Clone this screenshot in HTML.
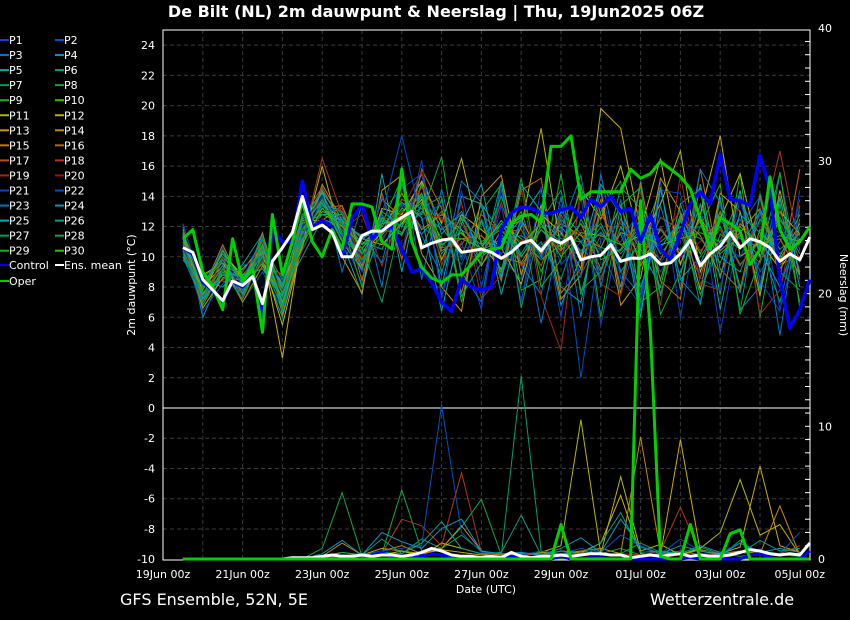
<!DOCTYPE html>
<html><head><meta charset="utf-8">
<style>
html,body{margin:0;padding:0;background:#000;width:850px;height:620px;overflow:hidden}
svg{display:block;font-family:"DejaVu Sans","Liberation Sans",sans-serif}
</style></head>
<body>
<svg id="chart" width="850" height="620" viewBox="0 0 850 620">
<rect x="0" y="0" width="850" height="620" fill="#000"/>
<text x="436" y="17" text-anchor="middle" font-size="16" font-weight="bold" fill="#fff">De Bilt  (NL)  2m dauwpunt &amp; Neerslag | Thu, 19Jun2025 06Z</text>
<g id="grid"></g>
<g id="axes"></g>
<g id="members"></g>
<g id="main"></g>
<g id="legend"></g>
<text x="145" y="295" transform="rotate(-90 135 295)" text-anchor="middle" font-size="11" fill="#fff">2m dauwpunt (°C)</text>
<text x="840" y="295" transform="rotate(90 840 295)" text-anchor="middle" font-size="11" fill="#fff">Neerslag (mm)</text>
<text x="486" y="593" text-anchor="middle" font-size="11" fill="#fff">Date (UTC)</text>
<text x="120" y="605" font-size="16" fill="#fff">GFS Ensemble, 52N, 5E</text>
<text x="650" y="605" font-size="16" fill="#fff">Wetterzentrale.de</text>
</svg>
<script>
// ---- data ----
const tempTicks = [-10,-8,-6,-4,-2,0,2,4,6,8,10,12,14,16,18,20,22,24];
const precipTicks = [0,10,20,30,40];
const dateLabels = ["19Jun 00z","21Jun 00z","23Jun 00z","25Jun 00z","27Jun 00z","29Jun 00z","01Jul 00z","03Jul 00z","05Jul 00z"];
const legendLabels = ["P1","P2","P3","P4","P5","P6","P7","P8","P9","P10","P11","P12","P13","P14","P15","P16","P17","P18","P19","P20","P21","P22","P23","P24","P25","P26","P27","P28","P29","P30"];
const memberColors = ["#1040c8","#0050c0","#0078c8","#0098c8","#00a8b0","#00a088","#00a060","#10a840","#10b020","#30c000","#b8b800","#c8b000","#c89800","#c88800","#c87800","#c06800","#b85010","#b03818","#a02818","#901818"];

// 6-hourly series (from 19Jun 12Z)
const meanTemp = [10.6,10.3,8.5,7.8,7.1,8.4,8.1,8.7,6.9,9.7,10.6,11.6,14.0,11.8,12.1,11.6,10.0,10.0,11.4,11.7,11.7,12.2,12.6,13.0,10.6,10.9,11.1,11.2,10.3,10.4,10.5,10.3,9.9,10.3,10.9,11.1,10.4,11.2,10.9,11.3,9.8,10.0,10.1,10.8,9.7,9.9,9.9,10.2,9.5,9.6,10.2,11.1,9.4,10.2,10.7,11.6,10.6,11.2,11.0,10.6,9.7,10.2,9.8,11.3];
const operTemp = [11.2,11.8,9.0,8.0,6.5,11.2,8.4,9.2,5.0,12.8,8.8,11.0,13.7,11.0,10.0,11.8,10.5,13.5,13.5,13.3,11.0,10.5,15.8,11.0,9.3,8.6,8.3,8.8,8.8,9.5,10.3,10.5,10.6,12.2,12.7,12.8,12.3,17.3,17.3,18.0,13.8,14.3,14.3,14.3,14.3,15.8,15.2,15.5,16.3,15.8,15.3,14.5,12.5,10.5,12.6,12.2,11.7,9.5,10.5,15.3,11.8,10.5,11.0,12.0];
const controlTemp = [10.6,10.2,8.3,7.8,7.0,8.4,8.0,8.8,6.0,11.8,11.0,11.0,15.0,12.0,12.4,12.0,10.0,12.5,13.5,11.2,11.8,12.0,10.5,9.0,9.2,8.3,7.0,6.4,8.5,8.0,7.8,8.0,11.8,12.9,13.3,13.2,12.9,12.9,13.1,13.3,12.6,13.8,13.3,14.0,13.0,13.2,11.0,12.8,10.5,9.8,11.5,13.5,14.3,13.5,16.8,13.8,13.7,13.4,16.7,14.5,8.5,5.3,6.5,8.5];
const meanPrecip = [0,0,0,0,0,0,0,0,0,0,0,0.1,0.1,0.1,0.2,0.3,0.2,0.2,0.3,0.2,0.3,0.3,0.2,0.3,0.5,0.8,0.6,0.3,0.2,0.2,0.1,0.2,0.1,0.5,0.2,0.1,0.2,0.2,0.3,0.2,0.3,0.4,0.4,0.3,0.3,0.1,0.2,0.3,0.2,0.3,0.4,0.2,0.3,0.2,0.2,0.3,0.5,0.7,0.6,0.4,0.3,0.4,0.3,1.2];
const operPrecip = [0,0,0,0,0,0,0,0,0,0,0,0,0,0,0,0,0,0,0,0,0,0,0,0,0,0,0,0,0,0,0,0,0,0,0,0,0,0,2.6,0,0,0,0,0,0,0,27,17,0.2,0,0,2.6,0,0,0,1.9,2.2,0,0,0,0,0,0,0];
const controlPrecip = [0,0,0,0,0,0,0,0,0,0,0,0,0,0,0,0,0,0,0,0.3,0.5,0.1,0.2,0.1,0.2,0.4,0.3,0.2,0,0,0,0.1,0,0.2,0.1,0,0,0,0.2,0,0,0.1,0.1,0,0,0,0,0,0,0,0,0.1,0,0,0,0,0,0.3,0.4,0.1,0,0,0,0.6];

// 12-hourly member series (from 19Jun 12Z)
const P1T=[10.8,7.0,9.5,8.2,10.5,7.5,12.0,14.0,11.5,8.2,13.0,14.5,15.5,7.5,11.0,6.5,14.5,7.0,13.0,6.0,14.0,5.5,12.0,7.0,15.0,6.0,13.5,5.0,12.0,14.0,6.5,11.5];
const P2T=[10.2,8.0,10.5,7.0,9.0,6.5,10.5,13.0,12.5,9.0,11.0,13.5,12.0,11.0,9.5,12.5,10.0,8.5,13.5,9.5,11.0,10.5,7.5,12.0,9.0,11.5,8.0,10.5,12.5,9.0,11.0,13.0];
const P3T=[11.5,7.5,8.5,9.0,11.0,8.0,11.5,14.5,9.0,13.5,8.0,16.0,8.5,14.5,9.0,7.0,15.0,9.5,7.5,14.0,6.0,15.5,9.0,7.5,14.5,8.5,7.0,14.0,6.5,8.0,15.5,8.5];
const P4T=[12.0,6.0,9.0,7.5,10.0,7.0,12.5,13.5,13.0,10.5,12.5,12.0,15.5,11.5,13.0,10.0,11.0,12.5,10.0,13.0,11.5,9.0,12.5,10.5,8.0,13.5,9.5,11.0,14.0,10.5,8.0,12.0];
const P5T=[10.0,7.8,10.0,8.5,9.5,6.0,11.0,13.8,11.0,7.5,15.5,9.0,15.0,8.0,14.0,13.5,7.5,12.5,14.5,8.0,7.0,13.5,8.0,15.0,7.5,12.5,14.5,6.5,13.0,7.5,14.0,8.0];
const P6T=[11.0,8.5,8.0,9.5,11.5,7.5,10.0,12.5,12.0,11.0,10.5,13.0,14.0,12.0,10.0,13.5,11.5,9.5,11.0,8.5,12.5,10.0,11.5,8.0,12.0,9.5,13.5,10.0,9.0,12.5,10.5,11.5];
const P7T=[10.5,7.2,9.8,7.8,10.8,8.5,12.2,14.2,12.8,10.8,11.5,12.5,11.5,13.0,11.5,10.5,14.0,10.0,12.0,11.0,10.0,12.0,9.0,11.0,14.5,8.5,10.0,12.0,9.5,11.0,7.0,12.5];
const P8T=[9.8,8.2,10.2,8.8,9.2,7.2,11.8,13.2,11.8,9.8,12.8,10.5,13.5,9.0,12.5,9.5,11.0,13.0,9.0,12.5,11.0,8.5,12.0,10.0,11.0,12.0,7.5,11.5,10.5,13.0,9.5,10.0];
const P9T=[11.2,6.8,9.2,7.2,10.2,6.8,11.2,12.8,12.2,8.0,12.2,15.2,10.5,13.8,7.0,13.0,14.8,7.8,8.5,15.5,7.5,13.0,15.0,7.0,8.0,13.5,14.5,7.5,15.5,6.0,13.5,7.0];
const P10T=[10.4,7.6,8.8,8.4,11.2,7.8,12.8,13.6,11.2,10.6,11.8,11.5,14.8,10.8,11.6,10.2,12.2,11.2,9.8,10.8,13.0,9.8,10.5,12.5,8.5,12.8,10.2,13.0,8.0,11.8,10.0,12.8];
const P11T=[10.0,8.8,9.6,7.6,9.8,5.5,10.8,16.0,11.0,9.2,13.2,12.8,15.0,12.2,16.5,10.8,9.2,12.0,18.5,10.5,14.5,12.5,16.0,11.0,13.5,17.0,9.0,12.5,15.5,10.0,13.0,11.5];
const P12T=[11.6,7.4,10.4,8.6,10.4,3.3,11.6,13.4,12.6,11.2,10.8,12.2,13.8,9.8,12.8,11.8,10.6,8.2,12.8,11.6,9.2,19.8,18.5,11.8,16.5,9.5,12.8,18.0,10.0,11.0,9.2,11.2];
const P13T=[10.6,6.6,8.6,9.2,10.6,8.2,11.4,14.4,10.0,7.6,14.4,15.4,10.2,8.0,6.4,14.0,15.4,8.8,13.4,7.2,8.8,14.4,6.8,8.6,15.2,13.0,7.8,14.2,13.0,7.4,14.4,8.8];
const P14T=[11.4,8.0,9.4,7.0,9.4,7.4,12.4,12.4,13.4,10.2,11.6,14.2,11.8,12.8,11.8,9.4,11.8,12.4,10.2,12.2,11.4,10.6,13.4,9.4,11.8,10.2,12.6,10.4,11.6,13.2,9.8,12.2];
const P15T=[10.2,7.8,10.8,8.0,11.6,6.2,10.6,14.8,12.4,9.4,13.8,12.6,14.2,10.4,11.2,11.4,10.0,9.6,11.8,10.4,12.2,9.2,11.6,11.2,9.8,12.6,11.4,8.8,12.2,10.8,11.2,8.8];
const P16T=[11.8,7.2,9.0,8.8,10.2,7.6,11.8,13.2,13.4,8.4,14.2,9.8,15.8,13.2,7.6,12.4,8.4,14.4,15.2,7.6,9.2,13.8,7.6,14.8,8.4,7.2,15.8,9.2,7.8,14.0,8.6,15.8];
const P17T=[10.8,8.4,8.4,8.2,9.6,8.8,12.6,14.6,12.0,11.4,11.4,13.8,13.2,10.6,10.8,12.8,11.6,11.8,9.4,12.8,10.2,12.8,10.8,9.6,12.6,11.8,8.6,13.0,10.8,9.6,13.0,9.8];
const P18T=[11.0,7.0,10.0,7.4,10.8,6.6,11.0,16.5,12.8,9.8,12.6,12.4,14.6,12.4,12.2,9.8,13.6,9.4,10.8,11.8,8.8,11.4,12.2,10.8,11.2,13.0,10.4,11.8,9.4,11.4,17.0,10.4];
const P19T=[10.4,7.6,9.2,8.6,11.0,7.0,12.2,13.8,11.8,12.8,9.4,13.2,15.6,9.4,13.6,7.2,8.8,14.6,7.4,3.8,14.8,8.2,7.4,13.6,6.8,15.4,8.2,7.8,14.4,6.2,7.8,13.8];
const P20T=[11.2,8.2,9.8,7.8,9.8,7.8,10.4,13.0,13.2,10.0,11.2,13.0,12.8,12.6,10.6,10.6,12.0,11.0,12.2,10.2,11.8,8.6,12.4,10.2,12.0,10.0,11.0,12.6,10.6,12.2,11.6,10.6];
const P21T=[10.6,6.4,8.2,9.4,10.0,8.4,12.0,14.0,11.2,9.0,14.0,10.2,16.4,7.2,14.4,8.0,13.4,7.0,14.6,13.4,8.6,14.6,8.6,6.8,14.4,14.2,8.6,7.8,13.8,8.4,6.4,14.4];
const P22T=[12.2,7.8,10.6,8.0,10.6,7.2,11.4,13.6,12.6,9.6,12.8,18.0,12.4,13.6,9.8,12.2,10.2,12.2,9.8,12.6,2.0,11.2,11.0,13.2,9.6,11.6,12.0,10.8,10.0,12.8,12.2,9.6];
const P23T=[10.2,7.4,9.4,8.4,11.4,6.4,11.6,13.4,12.2,11.4,9.6,14.8,11.4,8.8,15.0,13.6,8.6,12.6,5.6,11.8,15.4,8.0,13.8,6.4,13.4,8.6,15.8,13.6,7.6,13.2,4.8,13.4];
const P24T=[11.0,8.6,9.8,7.6,10.4,8.0,12.6,14.2,11.6,10.2,12.4,11.6,13.0,11.8,12.8,10.4,11.2,11.4,10.6,12.0,10.4,11.6,10.2,11.8,10.6,12.4,9.6,12.4,11.2,10.6,12.6,10.2];
const P25T=[11.4,7.2,8.8,8.8,9.2,7.4,11.2,13.0,12.4,11.2,12.0,13.6,12.6,6.4,12.2,14.8,8.6,14.8,13.0,6.8,10.0,14.8,12.8,6.0,14.6,7.8,14.8,8.6,14.4,7.8,13.8,9.0];
const P26T=[10.8,8.0,10.2,8.2,10.6,6.8,12.4,14.4,12.2,9.2,13.0,12.0,14.0,10.2,11.8,10.8,12.2,10.2,12.4,11.2,11.0,12.2,9.8,12.6,10.2,11.8,11.2,9.6,12.8,11.6,10.2,11.6];
const P27T=[10.0,7.0,9.0,7.2,11.2,7.6,11.0,13.6,11.0,10.6,7.0,12.6,13.2,14.0,7.4,9.6,15.0,6.6,12.4,14.4,7.8,9.0,14.6,13.2,7.4,12.8,6.8,13.8,6.4,14.2,9.0,7.8];
const P28T=[11.6,8.4,9.6,8.6,10.0,8.2,12.2,12.8,12.8,10.2,12.6,11.4,14.2,10.6,12.6,11.0,11.8,10.0,11.8,10.6,12.2,10.6,10.4,12.0,11.8,10.4,12.4,10.2,11.4,10.0,12.4,10.8];
const P29T=[10.4,7.6,9.2,7.8,9.6,6.6,11.8,13.8,11.4,9.8,11.4,13.2,12.8,16.6,8.6,12.4,9.0,15.2,8.0,9.8,14.8,6.0,13.4,14.6,6.2,9.0,12.0,14.8,6.2,9.8,15.6,6.6];
const P30T=[11.2,7.8,10.4,8.4,10.8,7.0,10.8,13.2,12.0,10.8,12.2,12.4,13.6,11.2,11.2,10.6,12.4,10.8,12.2,10.0,11.6,11.4,10.8,11.4,10.8,11.2,11.6,11.0,12.0,10.8,11.4,11.0];
// member precip (12-hourly, only wet members; others are dry)
const P7R=[0,0,0,0,0,0,0,0,0.3,0.2,0.5,0.4,1.5,0.8,1.8,0.6,0.3,13.8,0.6,0.2,0.3,0.8,0.4,1.2,0.5,0.3,0.9,0.4,0.2,0.4,0.3,0.2];
const P8R=[0,0,0,0,0,0,0,0.8,5.0,0.2,0.4,5.2,0.6,0.8,2.4,4.5,0.3,0.2,0.5,0.3,0.6,0.4,0.8,0.3,0.4,0.6,0.3,0.2,1.4,0.3,0.4,0.3];
const P11R=[0,0,0,0,0,0,0,0,0.2,0.4,0.3,0.6,0.2,1.2,0.8,0.4,0.3,0.2,0.5,1.0,10.5,0.4,6.2,0.6,1.1,0.3,0.8,2.0,6.0,1.8,2.6,0.3];
const P12R=[0,0,0,0,0,0,0,0.2,0.5,0.3,0.8,0.6,0.4,0.7,0.5,0.3,0.2,0.4,0.3,0.6,0.5,1.2,4.8,0.4,0.3,9.0,0.6,0.4,0.9,7.0,1.0,0.5];
const P14R=[0,0,0,0,0,0,0,0.2,1.2,0.3,0.6,1.0,0.4,0.8,2.5,0.6,0.3,0.2,0.5,0.4,0.6,0.8,0.4,9.2,0.5,0.3,0.7,0.4,0.6,0.4,4.0,0.3];
const P18R=[0,0,0,0,0,0,0,0,0.3,0.2,0.4,3.0,2.5,1.0,6.5,0.5,0.2,0.3,0.4,0.2,0.5,0.3,0.4,0.3,0.6,3.9,0.4,0.3,0.5,0.3,0.4,1.0];
const P22R=[0,0,0,0,0,0,0,0,0.2,0.3,0.6,0.8,1.0,11.6,2.0,0.5,0.4,0.3,0.6,0.4,0.8,0.5,1.8,1.0,0.4,1.5,0.6,0.5,1.2,0.6,0.4,2.0];
const P24R=[0,0,0,0,0,0,0,0.4,1.4,0.3,2.0,1.3,0.8,2.3,3.0,0.6,0.4,0.5,0.3,0.8,1.6,0.5,3.0,0.9,0.4,1.0,0.6,0.3,1.2,0.5,0.8,0.5];
const P26R=[0,0,0,0,0,0,0,0,0.5,0.3,1.5,0.4,1.2,2.8,0.8,0.4,0.5,3.3,0.3,0.6,0.4,1.2,3.5,0.5,0.6,0.4,1.0,0.5,0.4,1.4,0.6,0.8];

const memberTemps=[P1T,P2T,P3T,P4T,P5T,P6T,P7T,P8T,P9T,P10T,P11T,P12T,P13T,P14T,P15T,P16T,P17T,P18T,P19T,P20T,P21T,P22T,P23T,P24T,P25T,P26T,P27T,P28T,P29T,P30T];
const memberPrecips=[null,null,null,null,null,null,P7R,P8R,null,null,P11R,P12R,null,P14R,null,null,null,P18R,null,null,null,P22R,null,P24R,null,P26R,null,null,null,null];

// ---- axes ----
const NS="http://www.w3.org/2000/svg";
const X0=163, X1=810, Y0=30, Y1=560, PXDAY=39.8;
const xAt = h => X0 + (h/24)*PXDAY;          // hours since 19Jun 00Z
const yT = v => 408 - v*15.12;                // dew point
const yP = v => 559 - v*13.27;                // precipitation (mm)
function mk(tag, attrs, parent){const e=document.createElementNS(NS,tag);for(const k in attrs)e.setAttribute(k,attrs[k]);parent.appendChild(e);return e;}
function pathFor(arr, step, yf){let d="";arr.forEach((v,i)=>{const x=xAt(12+i*step),y=Math.max(Y0,Math.min(Y1,yf(v)));d+=(i?"L":"M")+x.toFixed(1)+","+y.toFixed(1);});return d;}

const grid=document.getElementById("grid"), axes=document.getElementById("axes");
tempTicks.forEach(t=>{
  const y=yT(t);
  if(t!==0 && t!==-10){const g=mk("line",{x1:X0,x2:X1,y1:y,y2:y,stroke:"#3a3a3a","stroke-dasharray":"4,3"},grid);
  
  }
  const lb=mk("text",{x:155,y:y+4,"text-anchor":"end","font-size":"11",fill:"#fff"},axes);
  lb.textContent=t;
  
  
});
for(let d=1;d<16;d++){const x=X0+d*PXDAY;const g=mk("line",{x1:x,x2:x,y1:Y0,y2:Y1,stroke:"#3a3a3a","stroke-dasharray":"4,3"},grid);
  
  }
const zl=mk("line",{x1:X0,x2:X1,y1:yT(0),y2:yT(0),stroke:"#fff","stroke-width":1},grid);


for(let m=1;m<40;m++){const y=yP(m);const tk=mk("line",{x1:X1-5,x2:X1,y1:y,y2:y,stroke:"#fff"},axes);
  
  }
precipTicks.forEach(p=>{const y=yP(p);const lb=mk("text",{x:818,y:y+4,"font-size":"11",fill:"#fff"},axes);lb.textContent=p;
  
  });
dateLabels.forEach((s,i)=>{const x=X0+i*2*PXDAY;const lb=mk("text",{x:x,y:578,"text-anchor":"middle","font-size":"11",fill:"#fff"},axes);lb.textContent=s;
  
  });
const fr=mk("rect",{x:X0,y:Y0,width:X1-X0,height:Y1-Y0,fill:"none",stroke:"#fff","stroke-width":1},axes);



// ---- members ----
const mg=document.getElementById("members");
memberTemps.forEach((arr,i)=>{
  const c=memberColors[i%20];
  const p=mk("path",{d:pathFor(arr,12,yT),fill:"none",stroke:c,"stroke-width":1},mg);
  
  
  const pr=memberPrecips[i]||arr.map(()=>0);
  const q=mk("path",{d:pathFor(pr,12,yP),fill:"none",stroke:c,"stroke-width":1},mg);
  
  
});

// ---- main lines ----
const mn=document.getElementById("main");
function mainLine(arr,yf,color,w,name){const p=mk("path",{d:pathFor(arr,6,yf),fill:"none",stroke:color,"stroke-width":w,"stroke-linejoin":"round"},mn);
  
  }
mainLine(controlPrecip,yP,"#0000ff",3,"control-precip");
mainLine(meanPrecip,yP,"#ffffff",3,"mean-precip");
mainLine(operPrecip,yP,"#00d000",3,"oper-precip");
mainLine(controlTemp,yT,"#0000ff",3.5,"control-dewpoint");
mainLine(operTemp,yT,"#00d000",3,"oper-dewpoint");
mainLine(meanTemp,yT,"#ffffff",3,"mean-dewpoint");

// ---- legend ----
const lg=document.getElementById("legend");
function legendEntry(x,y,label,color){
  const g=mk("g",{},lg);
  
  
  mk("line",{x1:x,x2:x+9,y1:y-4,y2:y-4,stroke:color,"stroke-width":2},g);
  const t=mk("text",{x:x+9,y:y,"font-size":"11",fill:"#fff"},g);t.textContent=label;
}
legendLabels.forEach((l,i)=>{const col=i%2, row=Math.floor(i/2);legendEntry(col?55:0,44+row*15.05,l,memberColors[i%20]);});
legendEntry(0,269,"Control","#0000ff");
legendEntry(55,269,"Ens. mean","#ffffff");
legendEntry(0,285,"Oper","#00d000");
</script>
</body></html>
